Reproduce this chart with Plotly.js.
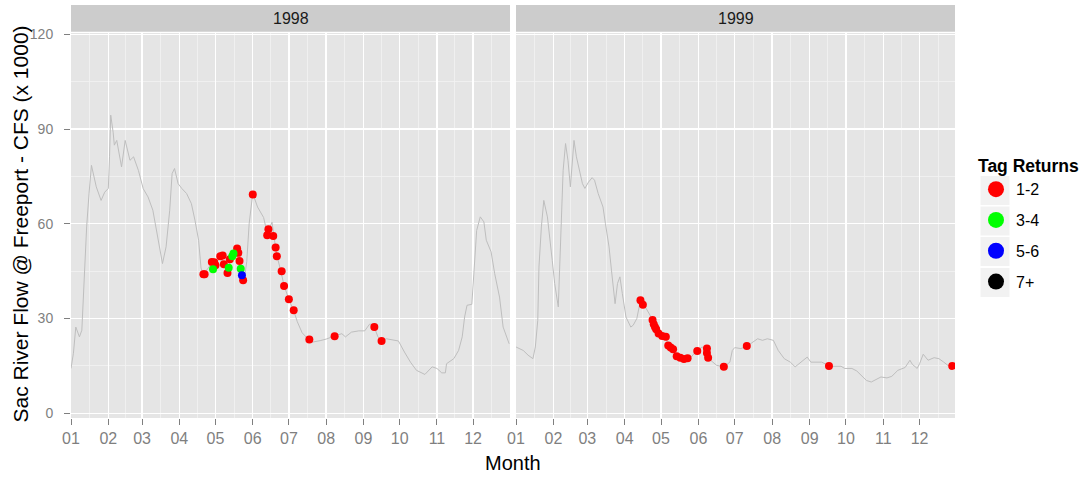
<!DOCTYPE html>
<html><head><meta charset="utf-8">
<script src="https://cdn.plot.ly/plotly-3.0.1.min.js"></script>
<style>html,body{margin:0;padding:0;background:#fff;}#chart{width:1084px;height:477px;}</style>
</head><body><div id="chart"></div>
<script>
// ---------------- data ----------------
const years = [1998, 1999];
const monthLabels = ['01','02','03','04','05','06','07','08','09','10','11','12'];
const yTicks = [0, 30, 60, 90, 120];
const yMinorTicks = [15, 45, 75, 105];
const yTitle = 'Sac River Flow @ Freeport - CFS (x 1000)';
const xTitle = 'Month';
const legendTitle = 'Tag Returns';
const returnClasses = ['1-2', '3-4', '5-6', '7+'];
const classColors = ['#FF0000', '#00FF00', '#0000FF', '#000000'];

// daily flow (day of year, flow x1000 cfs)
const flow1998Day = [0,2,4,7,9,11,13,15,17,21,25,28,31,32,33,35,36,38,42,45,49,52,56,60,64,68,72,76,79,82,84,86,89,92,96,100,103,106,108,110,114,117,120,124,127,130,133,137,140,142,144,146,148,150,151,155,160,163,165,167,169,171,174,177,181,185,188,192,197,200,207,212,219,225,228,233,239,244,248,251,255,258,262,272,277,282,287,294,300,304,308,311,312,318,322,325,327,329,333,335,337,340,343,345,349,352,356,359,362,364];
const flow1998 = [14.2,19,27.3,24.2,26.3,44.3,59,69.7,78.5,71.7,67.4,70,71.2,81.2,94.4,89,84.9,86.4,78,86.4,80.1,81.2,76.9,71.1,68.5,64.3,55.8,47.4,52.7,64.3,75.9,77.5,72.7,71.2,69.6,66.4,61.1,54.8,46,44,46,47.5,47,49.5,47,45,49,51.5,48,43,42.5,48,60,67,69.6,65.3,62,57,59,60.5,55,50,45.5,40.5,36,32.5,29,25.5,23.5,22.5,23,23.5,24.5,25.2,24.2,25.7,26.1,26.1,28.2,28.2,24.2,23,23.6,22.9,19.4,16.2,13.6,12.3,14.7,14.2,12.8,12.8,15.7,17.3,19.9,24.2,30.5,34.2,34.5,47.4,57.9,62.2,60.6,54.8,51.1,44.2,36.8,27.3,24,22];
const flow1999Day = [0,6,10,14,16,18,19,21,23,26,30,32,35,36,38,39,41,43,45,47,48,50,53,55,57,60,63,65,68,72,74,77,79,82,84,86,88,91,95,97,100,103,105,108,111,113,115,117,120,124,126,129,131,134,138,142,145,149,154,158,161,166,172,177,179,181,186,191,196,200,204,208,213,217,222,227,231,235,241,244,253,260,264,269,272,278,282,286,290,294,298,302,307,311,316,322,326,328,332,334,337,341,346,350,354,358,363];
const flow1999 = [21,19.9,18.4,17.3,21,29.4,46.3,59,67.4,62.2,48.4,41.1,33.7,44.2,63.2,76.9,85.4,80.1,71.7,82.2,86.4,81.2,75.9,72.7,71.2,73.2,74.6,73.8,69.6,65.3,60.1,52.7,45.3,34.7,41.1,43.2,37.9,30.5,27.3,27.9,30,35.8,34.5,33,31,29,27,26,24.7,24,21.5,20.5,19.8,18.1,17.3,17.3,17.8,19.7,21,20,16.8,15.2,14.7,16.2,19.9,20.8,20.5,21.2,22.6,23.6,23.1,23.6,23.1,19.9,17.3,16.2,14.7,15.9,17.8,16.2,16.2,14.9,14.9,14.9,14.2,14.2,13.4,12,10.4,9.9,10.7,11.5,11.2,11.7,13.6,14.5,16.8,15.5,14.2,15.7,18.7,16.8,17.6,17.3,16.2,15,15.2];

// tag returns (day of year, flow at release)
const red1998Day = [110,111,117,119,120,124,126,127,130,132,138,139,140,143,151,163,164,168,170,171,175,177,181,185,198,219,252,258];
const red1998Flow = [44,44,47.9,47.8,46.9,49.7,50,47.2,44.4,48.8,52.2,50.8,48.2,42.1,69.3,56.4,58.3,56.1,52.5,49.7,45,40.3,36.1,32.6,23.4,24.4,27.3,22.9];
const green1998Day = [118,131,134,135,141];
const green1998Flow = [45.6,46.1,49.7,50.6,45.8];
const blue1998Day = [142];
const blue1998Flow = [43.7];
const red1999Day = [103,105,113,114,115,116,118,121,124,126,128,130,133,136,139,142,150,158,158,159,172,191,259,361];
const red1999Flow = [35.8,34.4,29.5,28.2,27.3,26.6,25.3,24.5,24.2,21.5,20.8,20.3,18.1,17.6,17.2,17.4,19.7,20.5,19.1,17.6,14.7,21.3,15,15];

// ---------------- helpers ----------------
function dayToDate(year, day) {
  const t = Date.UTC(year, 0, 1) + day * 86400000;
  return new Date(t).toISOString().replace('T', ' ').slice(0, 19);
}
function monthStarts(year) {
  return monthLabels.map((m) => year + '-' + m + '-01');
}
function monthMids(year) {
  const out = [];
  for (let m = 0; m < 12; m++) {
    const a = Date.UTC(year, m, 1), b = Date.UTC(year, m + 1, 1);
    out.push(new Date((a + b) / 2).toISOString().replace('T', ' ').slice(0, 19));
  }
  return out;
}

// ---------------- geometry (px) ----------------
const W = 1084, H = 477;
const L = 71, R = 955, T = 33, B = 418;
const pw = R - L, ph = B - T;
const px = (x) => (x - L) / pw;
const py = (y) => (B - y) / ph;
const p1 = [0, px(510)], p2 = [px(516), 1];

const FONT = 'Liberation Sans, Arial, sans-serif';

function xAxis(year, domain, anchor, endDay) {
  return {
    domain: domain, anchor: anchor, type: 'date',
    range: [dayToDate(year, 0), dayToDate(year, endDay)],
    tickmode: 'array', tickvals: monthStarts(year), ticktext: monthLabels,
    ticks: 'outside', ticklen: 6, tickwidth: 1, tickcolor: '#7F7F7F',
    tickfont: {family: FONT, size: 16, color: '#7F7F7F'},
    showgrid: true, gridcolor: '#FFFFFF', gridwidth: 1.4,
    minor: {tickmode: 'array', tickvals: monthMids(year), showgrid: true, gridcolor: '#F2F2F2', gridwidth: 0.8, ticks: ''},
    zeroline: false, showline: false, fixedrange: true
  };
}
const yCommon = {
  range: [-1.49, 120.41], tickmode: 'array', tickvals: yTicks,
  showgrid: true, gridcolor: '#FFFFFF', gridwidth: 1.4,
  minor: {tickmode: 'array', tickvals: yMinorTicks, showgrid: true, gridcolor: '#F2F2F2', gridwidth: 0.8, ticks: ''},
  zeroline: false, showline: false, fixedrange: true
};

const lineStyle = {color: 'rgb(190,190,190)', width: 1};
const mk = (c) => ({color: c, size: 8, symbol: 'circle'});

const traces = [
  {x: flow1998Day.map((d) => dayToDate(years[0], d)), y: flow1998, xaxis: 'x', yaxis: 'y', mode: 'lines', line: lineStyle, showlegend: false, hoverinfo: 'skip'},
  {x: flow1999Day.map((d) => dayToDate(years[1], d)), y: flow1999, xaxis: 'x2', yaxis: 'y2', mode: 'lines', line: lineStyle, showlegend: false, hoverinfo: 'skip'},
  {x: red1998Day.map((d) => dayToDate(years[0], d)), y: red1998Flow, xaxis: 'x', yaxis: 'y', mode: 'markers', marker: mk(classColors[0]), name: returnClasses[0], legendgroup: 'g0', showlegend: false},
  {x: red1999Day.map((d) => dayToDate(years[1], d)), y: red1999Flow, xaxis: 'x2', yaxis: 'y2', mode: 'markers', marker: mk(classColors[0]), name: returnClasses[0], legendgroup: 'g0', showlegend: false},
  {x: green1998Day.map((d) => dayToDate(years[0], d)), y: green1998Flow, xaxis: 'x', yaxis: 'y', mode: 'markers', marker: mk(classColors[1]), name: returnClasses[1], legendgroup: 'g1', showlegend: false},
  {x: blue1998Day.map((d) => dayToDate(years[0], d)), y: blue1998Flow, xaxis: 'x', yaxis: 'y', mode: 'markers', marker: mk(classColors[2]), name: returnClasses[2], legendgroup: 'g2', showlegend: false}
];
// legend entries (no marks of their own)
returnClasses.forEach((c, i) => traces.push({
  x: [null], y: [null], xaxis: 'x', yaxis: 'y', mode: 'markers',
  marker: {color: classColors[i], size: 19, symbol: 'circle'},
  name: c, legendgroup: 'g' + i, showlegend: true
}));

// legend key backgrounds
const keyCenters = [190.5, 221, 251.5, 282.5];
const shapes = [
  {type: 'rect', xref: 'paper', yref: 'paper', x0: p1[0], x1: p1[1], y0: py(31.7), y1: py(5), fillcolor: '#CCCCCC', line: {width: 0}, layer: 'below'},
  {type: 'rect', xref: 'paper', yref: 'paper', x0: p2[0], x1: p2[1], y0: py(31.7), y1: py(5), fillcolor: '#CCCCCC', line: {width: 0}, layer: 'below'}
];
keyCenters.forEach((c) => shapes.push({type: 'rect', xref: 'paper', yref: 'paper', x0: px(980.5), x1: px(1009.5), y0: py(c + 14.5), y1: py(c - 14.5), fillcolor: '#F2F2F2', line: {width: 0}, layer: 'below'}));

const annotations = [
  {text: String(years[0]), xref: 'paper', yref: 'paper', x: (p1[0] + p1[1]) / 2, y: py(18.5), xanchor: 'center', yanchor: 'middle', showarrow: false, font: {family: FONT, size: 16, color: '#1A1A1A'}},
  {text: String(years[1]), xref: 'paper', yref: 'paper', x: (p2[0] + p2[1]) / 2, y: py(18.5), xanchor: 'center', yanchor: 'middle', showarrow: false, font: {family: FONT, size: 16, color: '#1A1A1A'}},
  {text: xTitle, xref: 'paper', yref: 'paper', x: 0.5, y: py(463), xanchor: 'center', yanchor: 'middle', showarrow: false, font: {family: FONT, size: 20, color: '#000000'}},
  {text: yTitle, xref: 'paper', yref: 'paper', x: px(19.5), y: py(224), xanchor: 'center', yanchor: 'middle', textangle: -90, showarrow: false, font: {family: FONT, size: 21, color: '#000000'}}
];

const layout = {
  width: W, height: H,
  margin: {l: L, r: W - R, t: T, b: H - B, pad: 0, autoexpand: false},
  paper_bgcolor: '#FFFFFF', plot_bgcolor: '#E5E5E5',
  font: {family: FONT, color: '#000000'},
  hovermode: false,
  xaxis: xAxis(years[0], p1, 'y', 364.7),
  xaxis2: xAxis(years[1], p2, 'y2', 363.3),
  yaxis: Object.assign({}, yCommon, {
    domain: [0, 1], anchor: 'x',
    ticks: 'outside', ticklen: 6, tickwidth: 1, tickcolor: '#7F7F7F',
    tickfont: {family: FONT, size: 14, color: '#7F7F7F'}, ticklabelstandoff: 8
  }),
  yaxis2: Object.assign({}, yCommon, {domain: [0, 1], anchor: 'x2', showticklabels: false, ticks: ''}),
  showlegend: true,
  legend: {
    x: px(976), xanchor: 'left', y: py(149.5), yanchor: 'top',
    bgcolor: 'rgba(0,0,0,0)', borderwidth: 0,
    title: {text: legendTitle, font: {family: FONT, size: 17.5, weight: 'bold', color: '#000000'}},
    font: {family: FONT, size: 16, color: '#000000'},
    tracegroupgap: 7, itemwidth: 30
  },
  shapes: shapes,
  annotations: annotations
};

Plotly.newPlot('chart', traces, layout, {displayModeBar: false, staticPlot: true});
</script>
</body></html>
